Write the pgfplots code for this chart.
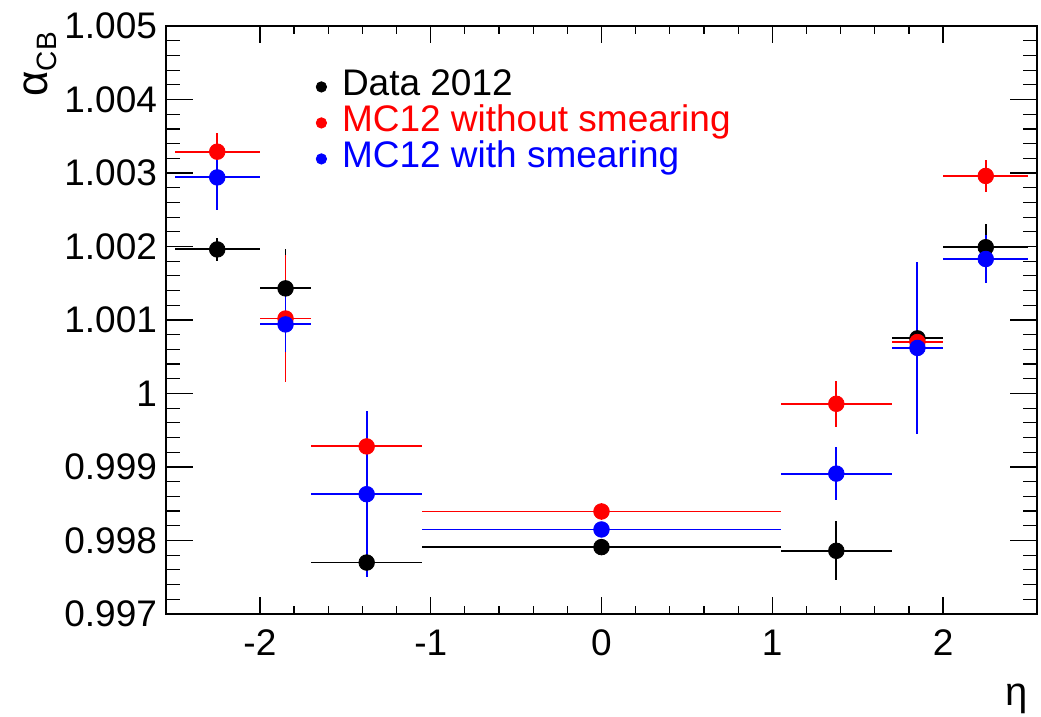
\documentclass[border=0pt]{standalone}
\usepackage{fontspec}
\setmainfont{Liberation Sans}
\usepackage{pgfplots}
\pgfplotsset{compat=1.18}
\usepackage{pgfplotstable}

% y values stored as (alpha_CB - 1) * 1000
\pgfplotstableread{
x xm xp y ey
-2.25 0.25 0.25 1.96 0.16
-1.85 0.15 0.15 1.43 0.53
-1.375 0.325 0.325 -2.30 0.20
0 1.05 1.05 -2.09 0.03
1.375 0.325 0.325 -2.14 0.40
1.85 0.15 0.15 0.75 0.03
2.25 0.25 0.25 1.99 0.32
}\datatab
\pgfplotstableread{
x xm xp y ey
-2.25 0.25 0.25 3.29 0.26
-1.85 0.15 0.15 1.02 0.86
-1.375 0.325 0.325 -0.72 0.20
0 1.05 1.05 -1.605 0.11
1.375 0.325 0.325 -0.14 0.31
1.85 0.15 0.15 0.70 0.05
2.25 0.25 0.25 2.96 0.22
}\mcnosmear
\pgfplotstableread{
x xm xp y ey
-2.25 0.25 0.25 2.94 0.44
-1.85 0.15 0.15 0.94 0.38
-1.375 0.325 0.325 -1.37 1.13
0 1.05 1.05 -1.85 0.04
1.375 0.325 0.325 -1.09 0.36
1.85 0.15 0.15 0.62 1.17
2.25 0.25 0.25 1.83 0.32
}\mcsmear

\begin{document}
\begin{tikzpicture}
\path[use as bounding box] (-83pt,-51.5pt) rectangle (437.5pt,307pt);
\begin{axis}[
  at={(0,0)}, anchor=south west,
  scale only axis,
  width=435.5pt, height=294pt,
  xmin=-2.55, xmax=2.55,
  ymin=-3, ymax=5,
  xtick={-2,-1,0,1,2},
  xticklabels={-2,-1,0,1,2},
  ytick={-3,-2,-1,0,1,2,3,4,5},
  yticklabels={0.997,0.998,0.999,1,1.001,1.002,1.003,1.004,1.005},
  minor x tick num=4,
  minor y tick num=4,
  tick align=inside,
  tick pos=both,
  axis line style={line width=0.6pt},
  every tick/.style={black, line width=0.6pt},
  xtick style={/pgfplots/major tick length=8.5pt, /pgfplots/minor tick length=4pt},
  ytick style={/pgfplots/major tick length=13.5pt, /pgfplots/minor tick length=7pt},
  tick label style={font=\fontsize{18.5}{20}\selectfont},
  xticklabel style={yshift=-4.5pt},
  yticklabel style={xshift=-1pt},
  legend style={draw=none, fill=none, inner sep=0pt, outer sep=0pt,
    at={(axis description cs:0.172,0.927)}, anchor=north west,
    font=\fontsize{18.5}{20}\selectfont,
    nodes={text height=13pt, text depth=4pt, inner sep=0.5pt},
    column sep=7pt},
  legend cell align=left,
  legend image code/.code={\fill[#1] (3pt,0pt) circle (2.6pt);},
  clip=false,
]
\addplot[color=black, only marks, mark=*, mark size=3.9pt,
  error bars/.cd, x dir=both, x explicit, y dir=both, y explicit, error mark=none,
  error bar style={draw=black, line width=0.95pt}]
  table[x=x, y=y, x error minus=xm, x error plus=xp, y error=ey] {\datatab};
\addlegendentry{Data 2012}
\addplot[color=red, only marks, mark=*, mark size=3.9pt,
  error bars/.cd, x dir=both, x explicit, y dir=both, y explicit, error mark=none,
  error bar style={draw=red, line width=0.95pt}]
  table[x=x, y=y, x error minus=xm, x error plus=xp, y error=ey] {\mcnosmear};
\addlegendentry{\textcolor{red}{MC12 without smearing}}
\addplot[color=blue, only marks, mark=*, mark size=3.9pt,
  error bars/.cd, x dir=both, x explicit, y dir=both, y explicit, error mark=none,
  error bar style={draw=blue, line width=0.95pt}]
  table[x=x, y=y, x error minus=xm, x error plus=xp, y error=ey] {\mcsmear};
\addlegendentry{\textcolor{blue}{MC12 with smearing}}
\node[rotate=90, anchor=base east, inner sep=0pt] at (axis description cs:-0.1355,0.99)
  {\fontsize{22}{24}\selectfont α\raisebox{-0.35ex}{\fontsize{14}{16}\selectfont CB}};
\node[anchor=base east, inner sep=0pt] at ([xshift=-4.5pt,yshift=-46pt]axis description cs:1,0)
  {\fontsize{20}{22}\selectfont η};
\end{axis}
\end{tikzpicture}
\end{document}
